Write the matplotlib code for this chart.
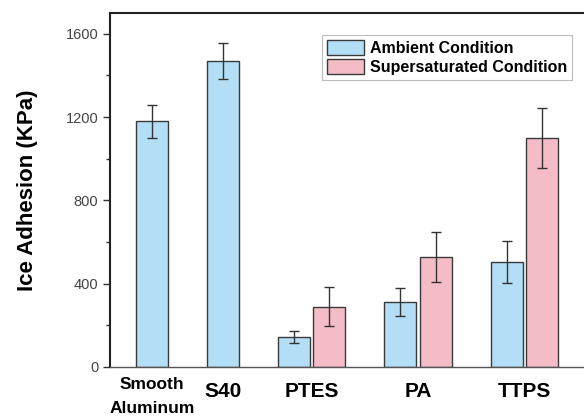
import matplotlib
matplotlib.use("Agg")
import matplotlib.pyplot as plt
import matplotlib.transforms as mtransforms
import numpy as np

plt.rcParams["font.family"] = ["Liberation Sans", "DejaVu Sans"]

groups = ["Smooth\nAluminum", "S40", "PTES", "PA", "TTPS"]
ambient = [1180, 1470, 145, 313, 503]
ambient_err = [78, 88, 30, 68, 100]
super_vals = [None, None, 290, 527, 1100]
super_err = [None, None, 93, 121, 143]
yticks = [0, 400, 800, 1200, 1600]

blue = "#B3DEF5"
pink = "#F4BCC7"
edge = "#3a3a3a"

fig = plt.figure(figsize=(5.84, 4.17), dpi=100)
ax = fig.add_axes([110/584, 1-367/417, 1.02-110/584, (367-13)/417])

# bar positions (in bar-slot units)
amb_pos = [0, 1, 2, 3.5, 5]
sup_pos = [None, None, 2.5, 4, 5.5]
w = 0.45
for i in range(len(groups)):
    ax.bar(amb_pos[i], ambient[i], width=w, color=blue, edgecolor=edge, linewidth=1.0,
           yerr=ambient_err[i], capsize=3.5, error_kw=dict(ecolor="#333333", elinewidth=1.0, capthick=1.0),
           label="Ambient Condition" if i == 0 else None, zorder=2)
    if super_vals[i] is not None:
        ax.bar(sup_pos[i], super_vals[i], width=w, color=pink, edgecolor=edge, linewidth=1.0,
               yerr=super_err[i], capsize=3.5, error_kw=dict(ecolor="#333333", elinewidth=1.0, capthick=1.0),
               label="Supersaturated Condition" if i == 2 else None, zorder=2)

centers = [a if s is None else (a + s) / 2 for a, s in zip(amb_pos, sup_pos)]
ax.set_xticks(centers)
ax.set_xticklabels(groups)
ax.tick_params(axis="x", length=0, pad=11)
for lbl in ax.get_xticklabels():
    lbl.set_fontweight("bold")
    if "\n" in lbl.get_text():
        lbl.set_fontsize(12.5)
        lbl.set_linespacing(1.75)
        lbl.set_transform(lbl.get_transform() + mtransforms.ScaledTranslation(0, 5/100, fig.dpi_scale_trans))
    else:
        lbl.set_fontsize(15)

ax.set_xlim(-0.59, 6.25)
ax.set_ylim(0, 1700)
ax.set_yticks(yticks)
ax.set_yticks([200, 600, 1000, 1400], minor=True)
ax.tick_params(axis="y", which="major", direction="out", length=5, width=1, labelsize=10.5, colors="#333333", labelcolor="#444444")
ax.tick_params(axis="y", which="minor", direction="out", length=3, width=1, colors="#333333")
ax.set_ylabel("Ice Adhesion (KPa)", fontsize=16, fontweight="bold", labelpad=20)

for s in ["left", "top", "right"]:
    ax.spines[s].set_color("#222222")
    ax.spines[s].set_linewidth(1.5)
ax.spines["bottom"].set_color("#555555")
ax.spines["bottom"].set_linewidth(1.0)

leg = ax.legend(loc="upper left", bbox_to_anchor=((322-110)/(1.02*584-110), 1-(35-13)/354),
                prop=dict(weight="bold", size=11.5), frameon=True, fancybox=False,
                edgecolor="#aaaaaa", handlelength=2.3, handleheight=1.1, borderpad=0.3,
                labelspacing=0.2, handletextpad=0.4, borderaxespad=0)
leg.get_frame().set_linewidth(0.8)

fig.savefig("out.png", dpi=100)
